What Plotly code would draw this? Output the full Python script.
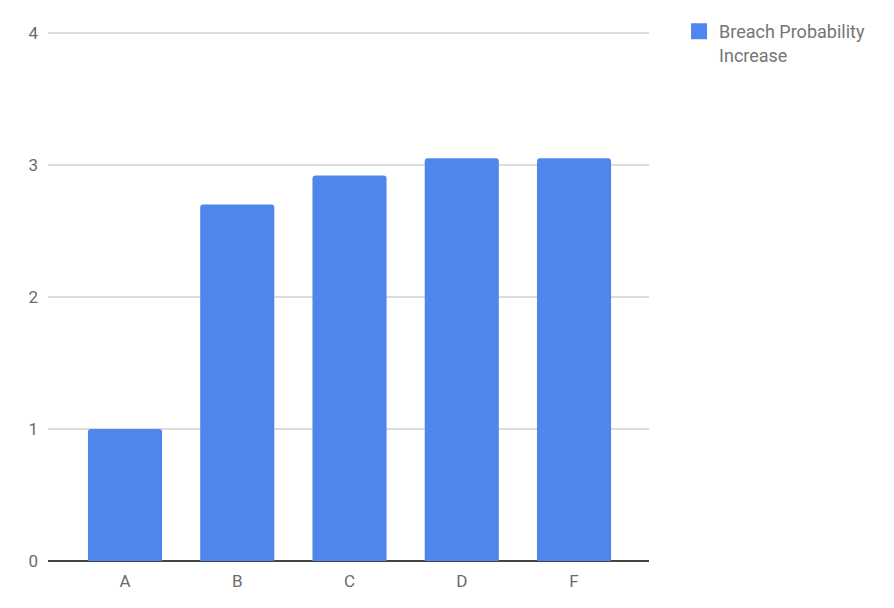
import plotly.graph_objects as go

categories = ["A", "B", "C", "D", "F"]
values = [1.0, 2.7, 2.92, 3.05, 3.05]
series_name = "Breach Probability<br>Increase"
y_ticks = [0, 1, 2, 3, 4]

BLUE = "#4F86EC"

fig = go.Figure()
fig.add_trace(go.Bar(
    x=categories, y=values, name=series_name,
    marker=dict(color=BLUE, cornerradius=3, line=dict(width=0)),
    showlegend=False,
))
# legend-only entry with a larger square swatch
fig.add_trace(go.Scatter(
    x=[None], y=[None], mode="markers", name=series_name,
    marker=dict(symbol="square", size=18, color=BLUE),
    showlegend=True, hoverinfo="skip",
))

fig.update_layout(
    width=894, height=608,
    margin=dict(l=40, r=253, t=21, b=55, autoexpand=False),
    plot_bgcolor="white", paper_bgcolor="white",
    font=dict(family="Roboto", color="#6b6b6b", size=17),
    bargap=0.34,
    legend=dict(x=1.05, y=1.030, xanchor="left", yanchor="top", valign="top",
                font=dict(size=18, color="#757575"),
                itemsizing="trace", bgcolor="rgba(0,0,0,0)"),
    xaxis=dict(showgrid=False, showline=False, ticks="", tickfont=dict(size=17),
               range=[-0.686, 4.668], ticklabelstandoff=8),
    yaxis=dict(range=[0, 4.03], tickvals=y_ticks, showgrid=True, gridcolor="#dcdcdc",
               gridwidth=1.5, zeroline=True, zerolinecolor="#444444", zerolinewidth=1.5,
               showline=False, ticks="", tickfont=dict(size=17), ticklabelstandoff=9),
)

fig.write_html("out.html")
